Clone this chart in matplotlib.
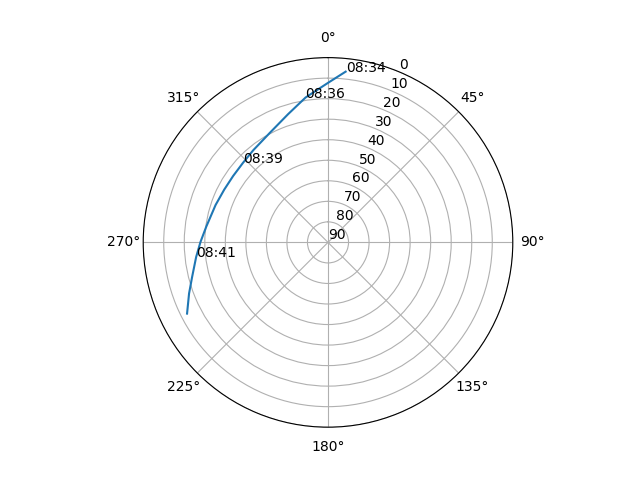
import numpy as np
import matplotlib
matplotlib.use("Agg")
import matplotlib.pyplot as plt

# satellite pass: azimuth (deg), elevation (deg)
azimuth = [5.9, 0.0, 351.2, 342.7, 332.0, 321.0, 313.0, 305.0, 297.0, 288.4, 277.3, 270.2, 263.7, 255.7, 249.8, 243.2]
elevation = [6.4, 12.3, 18.6, 24.6, 29.6, 32.2, 33.3, 33.6, 33.3, 32.3, 30.2, 27.9, 25.4, 21.7, 17.9, 13.1]
time_labels = ["08:34", "08:36", "08:39", "08:41"]
label_idx = [0, 2, 6, 12]
r_ticks = [0, 10, 20, 30, 40, 50, 60, 70, 80, 90]

fig = plt.figure(figsize=(6.4, 4.8), dpi=100)
ax = fig.add_subplot(111, projection="polar")
ax.set_theta_zero_location("N")
ax.set_theta_direction(-1)

theta = np.radians(azimuth)
ax.plot(theta, elevation)
for lab, i in zip(time_labels, label_idx):
    ax.text(theta[i], elevation[i], lab)

ax.set_rlim(90, 0)
ax.set_yticks(r_ticks)
ax.grid(True)

fig.savefig("out.png", dpi=100)
